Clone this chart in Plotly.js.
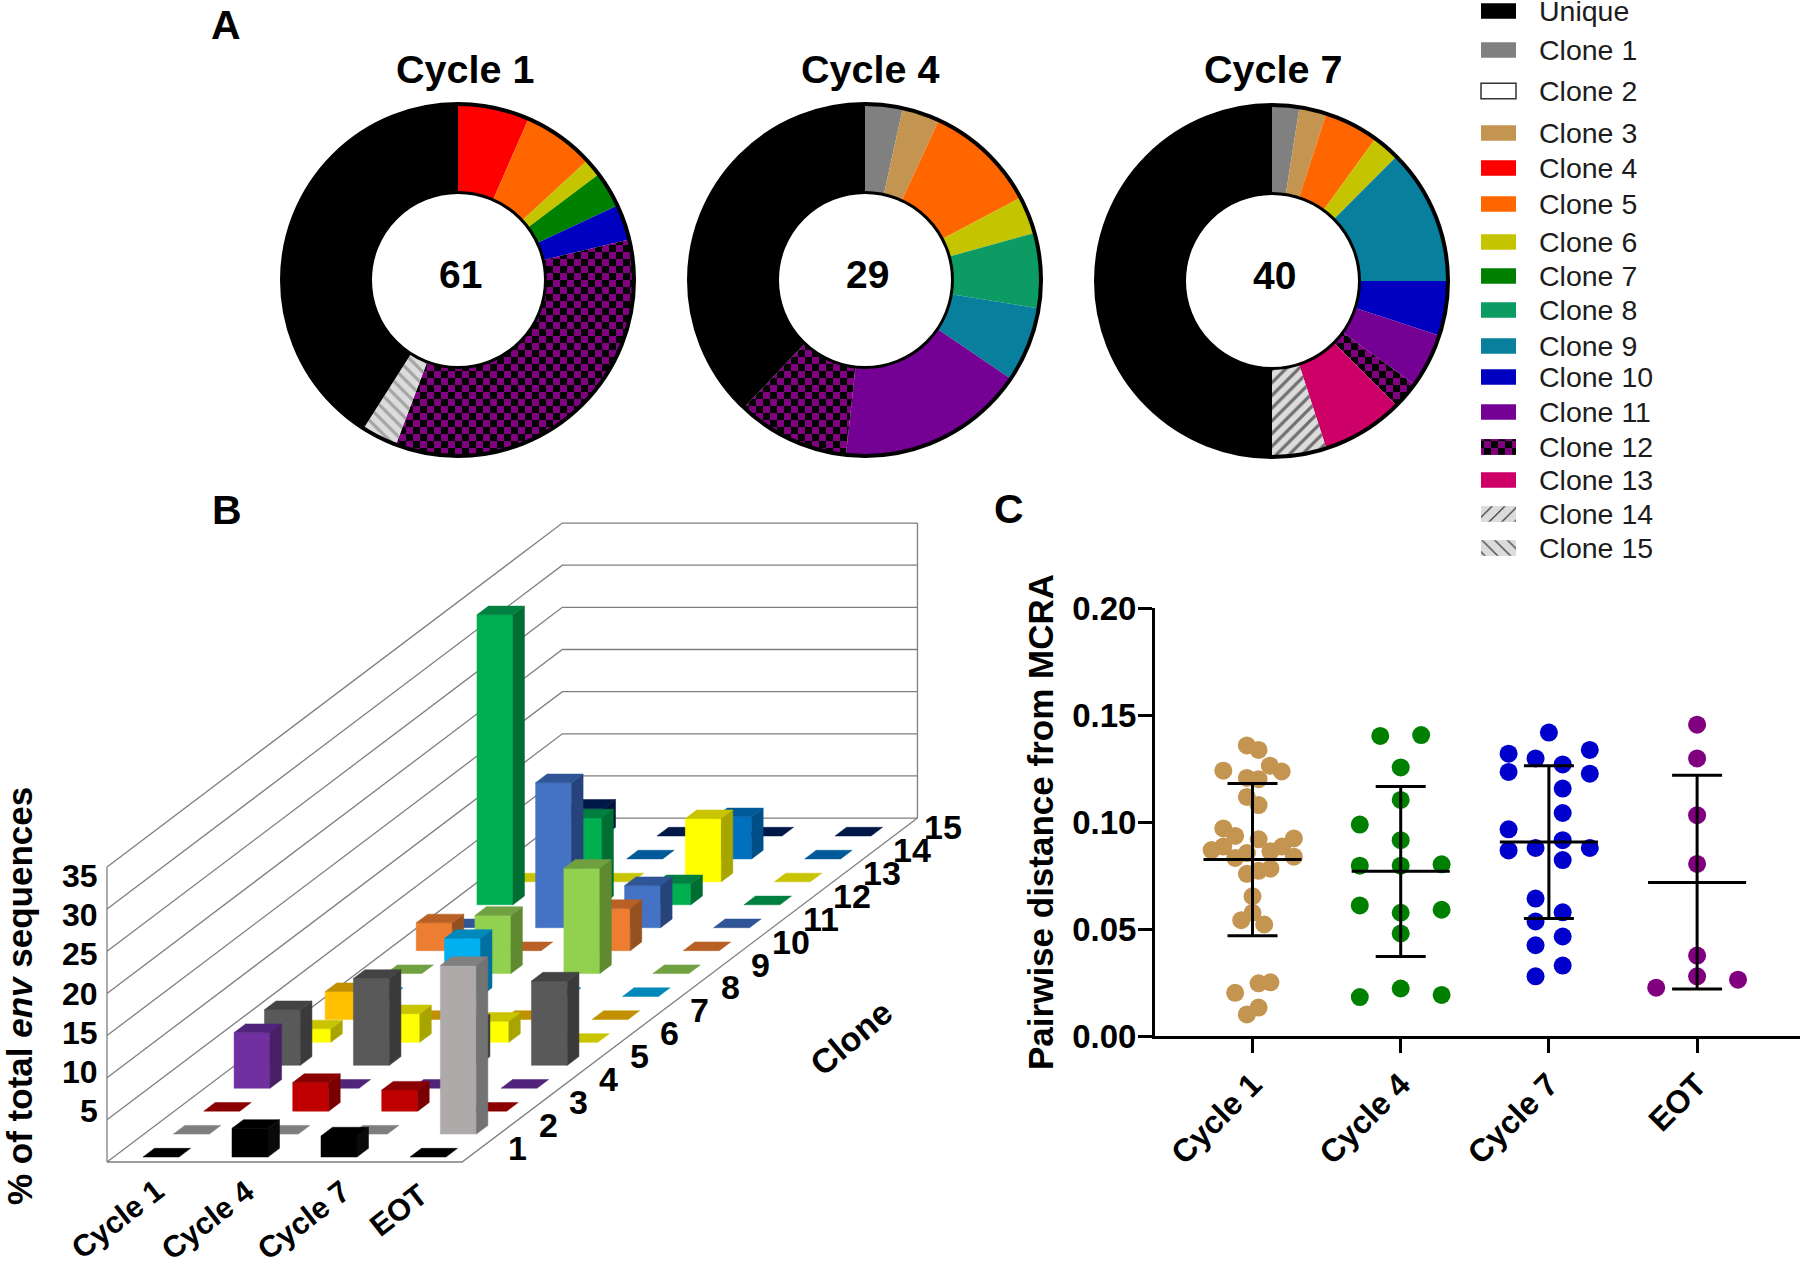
<!DOCTYPE html>
<html>
<head>
<meta charset="utf-8">
<script src="https://cdn.plot.ly/plotly-3.0.1.min.js"></script>
<style>html,body{margin:0;padding:0;background:#fff}#chart{width:1800px;height:1268px}</style>
</head>
<body>
<div id="chart"></div>
<script>
// ---------- shared categories ----------
const legendLabels = ['Unique','Clone 1','Clone 2','Clone 3','Clone 4','Clone 5','Clone 6','Clone 7','Clone 8','Clone 9','Clone 10','Clone 11','Clone 12','Clone 13','Clone 14','Clone 15'];
const cycleNames = ['Cycle 1','Cycle 4','Cycle 7','EOT'];
const pieLabels = ['Clone 1','Clone 2','Clone 3','Clone 4','Clone 5','Clone 6','Clone 7','Clone 8','Clone 9','Clone 10','Clone 11','Clone 12','Clone 13','Clone 14','Clone 15','Unique'];

// ---------- panel A: sequence counts per clone (last = Unique) ----------
const pieCycle1 = [0,0,0,4,4,1,2,0,0,2,0,21,0,0,2,25];
const pieCycle4 = [1,0,1,0,3,1,0,2,2,0,5,3,0,0,0,11];
const pieCycle7 = [1,0,1,0,2,1,0,0,5,2,2,1,3,2,0,20];
const pieTotals = ['61','29','40'];
const pieTitles = ['Cycle 1','Cycle 4','Cycle 7'];

// ---------- panel B: % of total env sequences, clones 1..15 ----------
const barsCycle1 = [0,0,0,6.6,6.6,1.6,3.3,0,0,3.3,0,34.4,0,0,3.3];
const barsCycle4 = [3.4,0,3.4,0,10.3,3.4,0,6.9,6.9,0,17.2,10.3,0,0,0];
const barsCycle7 = [2.5,0,2.5,0,5,2.5,0,0,12.5,5,5,2.5,7.5,5,0];
const barsEOT    = [0,20,0,0,10,0,0,0,0,0,0,0,0,0,0];
const bar3dTicks = [5,10,15,20,25,30,35];
const cloneTicks = ['1','2','3','4','5','6','7','8','9','10','11','12','13','14','15'];

// ---------- panel C: pairwise distance from MCRA ----------
const c1Jitter = [-.038,.041,.117,.197,-.197,-.038,.041,-.038,.041,-.197,-.117,.041,.279,.2,-.197,-.276,.121,.279,-.038,-.117,-.038,.041,.121,0,0,-.076,.079,-.117,.041,.121,.041,-.038];
const c1Values = [.1358,.1337,.1263,.1236,.1240,.1206,.1200,.1117,.1079,.0970,.0935,.0919,.0923,.0885,.0885,.0869,.0863,.0838,.0855,.0832,.0758,.0772,.0782,.0653,.0576,.0541,.0521,.0202,.0246,.0251,.0133,.0101];
const c4Jitter = [-.138,.138,0,0,-.276,0,-.276,0,.276,-.276,0,.276,0,-.276,0,.276];
const c4Values = [.1402,.1406,.1255,.1103,.0988,.0915,.0796,.0796,.0802,.0610,.0576,.0590,.0479,.0182,.0222,.0192];
const c7Jitter = [0,.276,-.272,-.09,.093,-.272,.276,.093,.093,-.272,.093,-.09,.276,-.272,.093,-.09,.093,-.09,.093,-.09,.093,-.09];
const c7Values = [.1418,.1337,.1319,.1297,.1269,.1234,.1226,.1156,.1042,.0966,.0915,.0879,.0879,.0867,.0822,.0642,.0578,.0535,.0465,.0424,.0329,.0279];
const eotJitter = [0,0,0,0,0,0,.276,-.276];
const eotValues = [.1455,.1297,.1032,.0804,.0376,.0279,.0263,.0226];
const groupMeans = [.0825,.0770,.0907,.0717];
const groupUpper = [.1180,.1166,.1263,.1218];
const groupLower = [.0469,.0372,.0549,.0220];
const yTicksC = [0,.05,.10,.15,.20];

// ---------- styles ----------
const FONT = '"Liberation Sans", Arial, sans-serif';
const cloneColor = {Unique:'#000000','Clone 1':'#808080','Clone 2':'#ffffff','Clone 3':'#c49550','Clone 4':'#ff0000','Clone 5':'#ff6600','Clone 6':'#c4c400','Clone 7':'#008000','Clone 8':'#0c9b62','Clone 9':'#08809d','Clone 10':'#0000c0','Clone 11':'#740094','Clone 12':'#800080','Clone 13':'#cc0066','Clone 14':'#dcdcdc','Clone 15':'#dcdcdc'};
const cloneShape = {'Clone 12':'+','Clone 14':'/','Clone 15':'\\'};
const cloneFg = {'Clone 12':'#000000','Clone 14':'#6e6e6e','Clone 15':'#a4a4a4'};
const swatchFg = {'Clone 12':'#000000','Clone 14':'#8c8c8c','Clone 15':'#b8b8b8'};
const cloneSize = {'Clone 12':14,'Clone 14':9,'Clone 15':9};
const barFace = [
 ['#000000','#000000','#0a0a0a'],['#808080','#807d7d','#737373'],['#c00000','#8b0000','#7a0000'],['#7030a0','#50247a','#481f66'],
 ['#595959','#434343','#3a3a3a'],['#ffff00','#c8c400','#a8a400'],['#ffc000','#c09000','#a67c00'],['#00b0f0','#0088bb','#0070a0'],
 ['#92d050','#70a040','#5f8a30'],['#ed7d31','#b86025','#955020'],['#4472c4','#2f5597','#27437c'],['#00b050','#008040','#006e32'],
 ['#ffff00','#c8c400','#a8a400'],['#0070c0','#005a9a','#004f88'],['#002060','#001848','#001238']
];
const eotGrey = ['#aeaaaa','#827f7f','#737373'];

const traces = [], shapes = [], annotations = [];
const note = (text,x,y,size,opt={}) => annotations.push(Object.assign({
  text, x, y, xref:'x3', yref:'y3', showarrow:false, xanchor:'center', yanchor:'middle',
  font:{family:FONT,size,color:'#000',weight:700}}, opt));

// ---------- panel B: oblique projection of (cycle, clone, value) ----------
const project = (i,j,u,d,v) => [143 + 89*i + 30.36*j + 36*u + 11.5*d, 1157 - 22.93*j - 8.67*d - 8.43*v];
const poly = (pts,color) => traces.push({
  type:'scatter', mode:'lines', xaxis:'x3', yaxis:'y3', fill:'toself', fillcolor:color,
  x:pts.map(p=>p[0]).concat(pts[0][0]), y:pts.map(p=>p[1]).concat(pts[0][1]),
  line:{color:color,width:.5}, hoverinfo:'skip', showlegend:false});
const wallLine = (pts) => traces.push({
  type:'scatter', mode:'lines', xaxis:'x3', yaxis:'y3',
  x:pts.map(p=>p[0]), y:pts.map(p=>p[1]), line:{color:'#7f7f7f',width:1.3}, hoverinfo:'skip', showlegend:false});
const iL=-.33, iR=3.66, jF=-.218, jB=14.78;
[0,...bar3dTicks].forEach(v=>wallLine([project(iL,jF,0,0,v),project(iL,jB,0,0,v),project(iR,jB,0,0,v)]));
wallLine([project(iL,jF,0,0,0),project(iL,jF,0,0,35)]);
wallLine([project(iR,jB,0,0,0),project(iR,jB,0,0,35)]);
wallLine([project(iL,jF,0,0,0),project(iR,jF,0,0,0),project(iR,jB,0,0,0)]);

const barSeries = [barsCycle1,barsCycle4,barsCycle7,barsEOT];
for(let j=14;j>=0;j--){
  barSeries.forEach((series,i)=>{
    const v = series[j];
    const [front,top,side] = (i===3&&j===1) ? eotGrey : barFace[j];
    if(v>0){
      poly([project(i,j,0,0,0),project(i,j,1,0,0),project(i,j,1,0,v),project(i,j,0,0,v)],front);
      poly([project(i,j,1,0,0),project(i,j,1,1,0),project(i,j,1,1,v),project(i,j,1,0,v)],side);
    }
    poly([project(i,j,0,0,v),project(i,j,1,0,v),project(i,j,1,1,v),project(i,j,0,1,v)],top);
  });
}
bar3dTicks.forEach(v=>note(String(v),100,1150.4-7.84*v,32,{xanchor:'right'}));
cloneTicks.forEach((t,j)=>{const p=project(iR,j,0,0,0); note(t,p[0]+49,p[1]-9,34);});
note('Clone',851,1038,34,{textangle:-40});
note('% of total <i>env</i> sequences',19,996,35,{textangle:-90});
[[117,1219],[207,1220],[303,1220],[398,1210]].forEach((p,i)=>note(cycleNames[i],p[0],p[1],30.5,{textangle:-38}));

// ---------- panel letters ----------
note('A',226,25,41); note('B',227,510,41); note('C',1009,509,41);

// ---------- panel A ----------
const pieGeom = [[458,280],[865,280],[1272,281]];
const R = 176, rIn = 87.5;
[pieCycle1,pieCycle4,pieCycle7].forEach((vals,k)=>{
  const [cx,cy] = pieGeom[k];
  traces.push({
    type:'pie', values:vals, labels:pieLabels, sort:false, direction:'clockwise', rotation:0, hole:rIn/R,
    textinfo:'none', showlegend:false, name:pieTitles[k],
    domain:{x:[(cx-R)/1800,(cx+R)/1800], y:[1-(cy+R)/1268,1-(cy-R)/1268]},
    marker:{colors:pieLabels.map(l=>cloneColor[l]), line:{width:0},
      pattern:{shape:pieLabels.map(l=>cloneShape[l]||''), fgcolor:pieLabels.map(l=>cloneFg[l]||'#000'),
               bgcolor:pieLabels.map(l=>cloneColor[l]), size:pieLabels.map(l=>cloneSize[l]||8), solidity:pieLabels.map(l=>l==='Clone 12'?.5:.35), fillmode:'replace'}}
  });
  [[R,4],[rIn,3]].forEach(([r,w])=>shapes.push({type:'circle',xref:'x3',yref:'y3',x0:cx-r,x1:cx+r,y0:cy-r,y1:cy+r,line:{color:'#000',width:w},layer:'above'}));
  note(pieTotals[k],cx+2,cy-6,39);
});
[[465,69],[870,69],[1273,69]].forEach((p,k)=>note(pieTitles[k],p[0],p[1],39.5));

// ---------- legend ----------
const legendY = [11,50,91,133,168,204,242,276,310,346,377,412,447,480,514,548];
const legendBar = (labels,marker) => traces.push({
  type:'bar', orientation:'h', xaxis:'x3', yaxis:'y3', base:1481,
  x:labels.map(()=>35), y:labels.map(l=>legendY[legendLabels.indexOf(l)]), width:labels.map(()=>15.5),
  text:labels, textposition:'none', hoverinfo:'text', showlegend:false, marker});
legendBar(legendLabels,{color:legendLabels.map(l=>cloneColor[l]),
  line:{color:legendLabels.map(l=>l==='Clone 2'?'#333':'rgba(0,0,0,0)'),width:legendLabels.map(l=>l==='Clone 2'?1.5:0)}});
const hatched = Object.keys(cloneShape);
legendBar(hatched,{color:hatched.map(l=>cloneColor[l]),line:{width:0},
  pattern:{shape:hatched.map(l=>cloneShape[l]),size:hatched.map(l=>cloneSize[l]),solidity:hatched.map(l=>l==='Clone 12'?.5:.15),
    fgcolor:hatched.map(l=>swatchFg[l]),fgopacity:1,fillmode:'overlay'}});
legendLabels.forEach((l,k)=>note(l,1537,legendY[k],28.5,{xanchor:'left',font:{family:FONT,size:28.5,color:'#1c1c1c'}}));

// ---------- panel C ----------
const groupColors = ['#c49550','#008000','#0000cc','#800080'];
[[c1Jitter,c1Values],[c4Jitter,c4Values],[c7Jitter,c7Values],[eotJitter,eotValues]].forEach(([jit,vals],k)=>{
  traces.push({type:'scatter',mode:'markers',xaxis:'x',yaxis:'y',name:cycleNames[k],
    x:jit.map(d=>k+1+d),y:vals,marker:{color:groupColors[k],size:18,line:{width:0}},showlegend:false});
});
const cats = cycleNames.map((_,k)=>k+1);
traces.push({type:'scatter',mode:'lines',xaxis:'x',yaxis:'y',showlegend:false,hoverinfo:'skip',
  x:cats.flatMap(c=>[c-.331,c+.331,null]),y:groupMeans.flatMap(m=>[m,m,null]),line:{color:'#000',width:3}});
traces.push({type:'scatter',mode:'markers',xaxis:'x',yaxis:'y',showlegend:false,hoverinfo:'y',
  x:cats,y:groupMeans,marker:{size:1,color:'#000',opacity:0},
  error_y:{type:'data',symmetric:false,array:groupUpper.map((u,k)=>u-groupMeans[k]),arrayminus:groupLower.map((l,k)=>groupMeans[k]-l),color:'#000',thickness:3,width:25}});

// ---------- layout ----------
const pxPerCat = 148.2, xAxisLeft = 1155, catOneX = 1252.5;
const layout = {
  width:1800,height:1268,margin:{l:0,r:0,t:0,b:0},paper_bgcolor:'#fff',plot_bgcolor:'rgba(0,0,0,0)',showlegend:false,
  font:{family:FONT,color:'#000'},hovermode:'closest',barmode:'overlay',
  xaxis:{domain:[xAxisLeft/1800,1],range:[1-(catOneX-xAxisLeft)/pxPerCat,1+(1800-catOneX)/pxPerCat],
    tickmode:'array',tickvals:cats,ticktext:cycleNames,tickangle:-45,showgrid:false,zeroline:false,
    showline:true,linecolor:'#000',linewidth:3,ticks:'outside',ticklen:14,tickwidth:3,tickcolor:'#000',
    tickfont:{family:FONT,size:32,weight:700,color:'#000'},anchor:'y'},
  yaxis:{domain:[1-1036/1268,1-608/1268],range:[0,.2],tickmode:'array',tickvals:yTicksC,tickformat:'.2f',showgrid:false,zeroline:false,
    showline:true,linecolor:'#000',linewidth:3,ticks:'outside',ticklen:14,tickwidth:3,tickcolor:'#000',ticklabelstandoff:-5,
    tickfont:{family:FONT,size:33,weight:700,color:'#000'},anchor:'x',
    title:{text:'Pairwise distance from MCRA',standoff:8,font:{family:FONT,size:35,weight:700,color:'#000'}}},
  xaxis3:{domain:[0,1],range:[0,1800],visible:false,anchor:'y3',fixedrange:true},
  yaxis3:{domain:[0,1],range:[1268,0],visible:false,anchor:'x3',fixedrange:true},
  shapes,annotations
};

Plotly.newPlot('chart',traces,layout,{displayModeBar:false,responsive:false}).then(gd=>{
  // Plotly has no checkerboard pattern: turn its "+" pattern (M a,0 L a,b M 0,a L b,a) into one.
  gd.querySelectorAll('pattern').forEach(p=>{
    const path = p.querySelector('path');
    if(!path) return;
    if(/^M([\d.]+),0L\1,[\d.]+M0,/.test(path.getAttribute('d')||'')){
      const s = parseFloat(p.getAttribute('width')), h = s/2;
      path.setAttribute('d',`M0,0H${h}V${h}H0ZM${h},${h}H${s}V${s}H${h}Z`);
      path.setAttribute('stroke','none');
      path.setAttribute('stroke-width','0');
      path.setAttribute('fill','#000');
      path.setAttribute('opacity','1');
    }
  });
});
</script>
</body>
</html>
